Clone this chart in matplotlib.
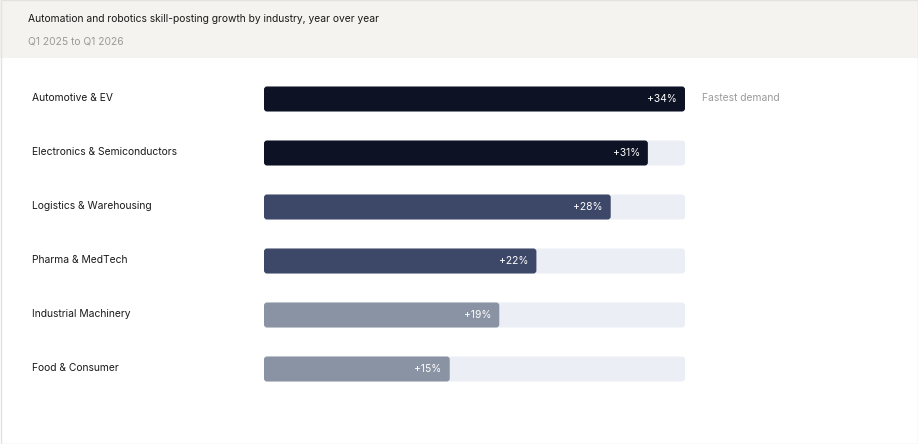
import matplotlib.pyplot as plt
from matplotlib.patches import FancyBboxPatch, Rectangle

industries = ["Automotive & EV", "Electronics & Semiconductors", "Logistics & Warehousing",
              "Pharma & MedTech", "Industrial Machinery", "Food & Consumer"]
growth = [34, 31, 28, 22, 19, 15]
colors = ["#0d1224", "#0d1224", "#3d4869", "#3d4869", "#8a93a3", "#8a93a3"]
max_val = 34

plt.rcParams['font.family'] = ['Inter', 'DejaVu Sans']
W, H = 918, 444
fig = plt.figure(figsize=(W / 100, H / 100), dpi=100)
fig.patch.set_facecolor("white")

# header band and border
fig.patches.append(Rectangle((0, 1 - 58 / H), 1, 58 / H, transform=fig.transFigure,
                             facecolor="#f4f3ef", edgecolor="none", zorder=0))
fig.patches.append(Rectangle((0.5 / W, 0.5 / H), 1 - 1 / W, 1 - 1 / H, transform=fig.transFigure,
                             facecolor="none", edgecolor="#e2e2e2", lw=1, zorder=5))
fig.text(28 / W, 1 - 19 / H, "Automation and robotics skill-posting growth by industry, year over year",
         fontsize=7.4, color="#1a1a1a", va="center")
fig.text(28 / W, 1 - 41 / H, "Q1 2025 to Q1 2026", fontsize=7.4, color="#9a9a9a", va="center")

ax = fig.add_axes([264 / W, 1 - 396 / H, 421 / W, 324 / H])
ax.set_xlim(0, max_val)
ax.set_ylim(len(industries) - 0.5, -0.5)
ax.axis("off")

bh = 25 / 54
xpx = 421 / max_val
asp = (1 / 54) / (1 / xpx)
r = 3 / xpx
for i, (name, v, c) in enumerate(zip(industries, growth, colors)):
    ax.add_patch(FancyBboxPatch((0, i - bh / 2), max_val, bh,
                                boxstyle=f"round,pad=0,rounding_size={r}", mutation_aspect=asp,
                                facecolor="#eceef5", edgecolor="none"))
    ax.add_patch(FancyBboxPatch((0, i - bh / 2), v, bh,
                                boxstyle=f"round,pad=0,rounding_size={r}", mutation_aspect=asp,
                                facecolor=c, edgecolor="none"))
    ax.text(v - 8 / xpx, i, f"+{v}%", color="white", fontsize=7.4, ha="right", va="center")
    fig.text(32 / W, 1 - (98 + 54 * i) / H, name, fontsize=7.4, color="#1a1a1a", va="center")

fig.text(702 / W, 1 - 98 / H, "Fastest demand", fontsize=7.4, color="#9a9a9a", va="center")

fig.savefig("out.png", dpi=100)
